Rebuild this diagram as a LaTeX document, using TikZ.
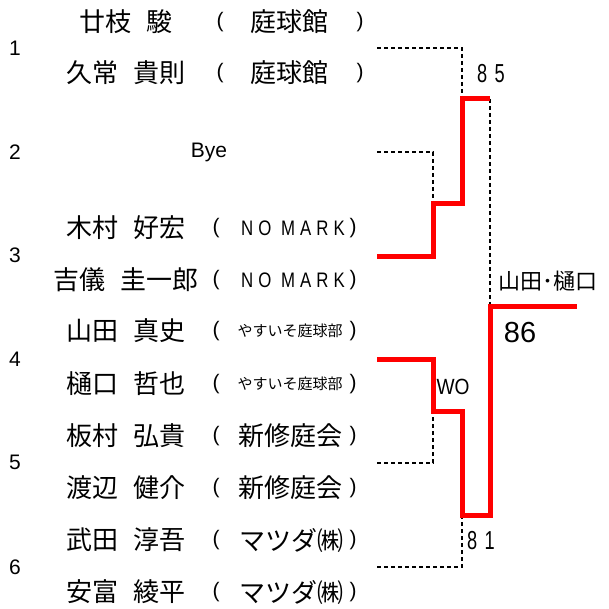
\documentclass[tikz,border=0pt]{standalone}
\usepackage{graphicx}
\usepackage{fontspec}
\setmainfont{Liberation Sans}
\newfontfamily\jpfont{Noto Sans CJK JP}
\newfontfamily\markfont[LetterSpace=30]{Liberation Sans}

\newcommand{\narrow}[2][0.7]{\scalebox{#1}[1]{#2}}
\newcommand{\gap}{\hspace{0.6em}}

\tikzset{
  player/.style={font=\jpfont\fontsize{26}{26}\selectfont, inner sep=0pt},
  club/.style={font=\jpfont\fontsize{26}{26}\selectfont, inner sep=0pt},
  smallclub/.style={font=\jpfont\fontsize{15}{15}\selectfont, inner sep=0pt},
  nomark/.style={font=\markfont\fontsize{21}{21}\selectfont, inner sep=0pt},
  paren/.style={font=\fontsize{21}{21}\selectfont, inner sep=0pt},
  seed/.style={font=\fontsize{21}{21}\selectfont, inner sep=0pt},
  score/.style={font=\fontsize{26}{26}\selectfont, inner sep=0pt},
  winline/.style={red, line width=5pt},
  lostline/.style={line width=1.8pt, dash pattern=on 4pt off 3pt}
}

\begin{document}
\begin{tikzpicture}[x=1pt,y=-1pt]
  \useasboundingbox (0,0) rectangle (609,609);

  % Seed numbers
  \node[seed] (s1) at (15,48) {1};
  \node[seed] (s2) at (15,152) {2};
  \node[seed] (s3) at (15,255) {3};
  \node[seed] (s4) at (15,359) {4};
  \node[seed] (s5) at (15,462) {5};
  \node[seed] (s6) at (15,567) {6};

  % Pair 1
  \node[player] (p1a) at (126,22) {廿枝\gap 駿};
  \node[paren] (l1a) at (220,22) {(};
  \node[club] (c1a) at (289,22) {庭球館};
  \node[paren] (r1a) at (360,22) {)};
  \node[player] (p1b) at (126,73) {久常\gap 貴則};
  \node[paren] (l1b) at (220,73) {(};
  \node[club] (c1b) at (289,73) {庭球館};
  \node[paren] (r1b) at (360,73) {)};

  % Pair 2
  \node[seed] (bye) at (209,152) {Bye};

  % Pair 3
  \node[player] (p3a) at (126,228) {木村\gap 好宏};
  \node[paren] (l3a) at (216,228) {(};
  \node[nomark] (c3a) at (293,228) {\narrow[0.8]{NO MARK}};
  \node[paren] (r3a) at (353,228) {)};
  \node[player] (p3b) at (126,280) {吉儀\gap 圭一郎};
  \node[paren] (l3b) at (216,280) {(};
  \node[nomark] (c3b) at (293,280) {\narrow[0.8]{NO MARK}};
  \node[paren] (r3b) at (353,280) {)};

  % Pair 4
  \node[player] (p4a) at (126,331) {山田\gap 真史};
  \node[paren] (l4a) at (216,331) {(};
  \node[smallclub] (c4a) at (290,331) {やすいそ庭球部};
  \node[paren] (r4a) at (353,331) {)};
  \node[player] (p4b) at (126,384) {樋口\gap 哲也};
  \node[paren] (l4b) at (216,384) {(};
  \node[smallclub] (c4b) at (290,384) {やすいそ庭球部};
  \node[paren] (r4b) at (353,384) {)};

  % Pair 5
  \node[player] (p5a) at (126,436) {板村\gap 弘貴};
  \node[paren] (l5a) at (216,436) {(};
  \node[club] (c5a) at (290,436) {新修庭会};
  \node[paren] (r5a) at (353,436) {)};
  \node[player] (p5b) at (126,488) {渡辺\gap 健介};
  \node[paren] (l5b) at (216,488) {(};
  \node[club] (c5b) at (290,488) {新修庭会};
  \node[paren] (r5b) at (353,488) {)};

  % Pair 6
  \node[player] (p6a) at (126,540) {武田\gap 淳吾};
  \node[paren] (l6a) at (216,540) {(};
  \node[club] (c6a) at (291,540) {マツダ㈱};
  \node[paren] (r6a) at (353,540) {)};
  \node[player] (p6b) at (126,592) {安富\gap 綾平};
  \node[paren] (l6b) at (216,592) {(};
  \node[club] (c6b) at (291,592) {マツダ㈱};
  \node[paren] (r6b) at (353,592) {)};

  % Bracket ends and joints
  \coordinate (e1) at (377,48);
  \coordinate (e2) at (377,152);
  \coordinate (e3) at (377,256);
  \coordinate (e4) at (377,359);
  \coordinate (e5) at (377,463);
  \coordinate (e6) at (377,567);
  \coordinate (q1) at (462,99);
  \coordinate (q2) at (433,204);
  \coordinate (q4) at (433,411);
  \coordinate (q6) at (462,515);
  \coordinate (top) at (490,99);
  \coordinate (bot) at (490,515);
  \coordinate (fin) at (490,306);
  \coordinate (champ) at (577,306);

  % Lost matches
  \draw[lostline] (e1) -| (q1);
  \draw[lostline] (e2) -| (q2);
  \draw[lostline] (e5) -| (q4);
  \draw[lostline] (e6) -| (q6);
  \draw[lostline] (top) -- (fin);

  % Winners
  \draw[winline] (e3) -| (q2) -| (q1) -- (top);
  \draw[winline] (e4) -| (q4) -| (q6) -- (bot) -- (fin) -- (champ);

  % Scores
  \node[score] (sc1) at (491,74) {\narrow{8\hspace{0.4em}5}};
  \node[score] (sc2) at (481,541) {\narrow{8\hspace{0.4em}1}};
  \node[font=\fontsize{22}{22}\selectfont, inner sep=0pt] (wo) at (453,387) {\narrow[0.87]{WO}};
  \node[font=\fontsize{29}{29}\selectfont, inner sep=0pt] (final) at (520,333) {86};
  \node[font=\jpfont\fontsize{22}{22}\selectfont, inner sep=0pt] (winner) at (548,281) {山田･樋口};

\end{tikzpicture}
\end{document}
